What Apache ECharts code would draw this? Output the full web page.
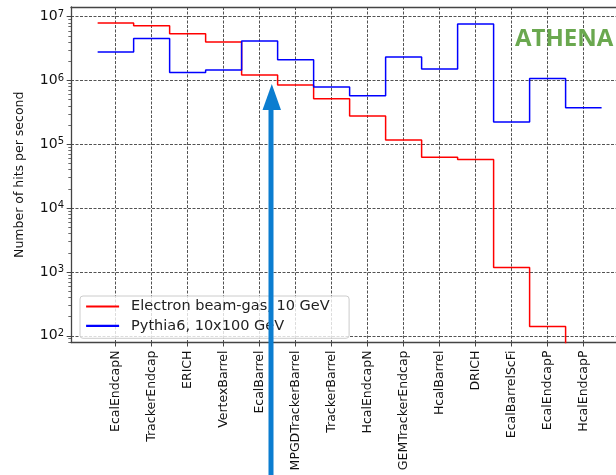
<!DOCTYPE html>
<html>
<head>
<meta charset="utf-8">
<script src="https://cdn.jsdelivr.net/npm/echarts@6/dist/echarts.min.js"></script>
<style>
html, body { margin: 0; padding: 0; background: #fff; }
#chart { width: 616px; height: 475px; }
</style>
</head>
<body>
<div id="chart"></div>
<script>
// ---- data ----
const categories = ['EcalEndcapN', 'TrackerEndcap', 'ERICH', 'VertexBarrel', 'EcalBarrel',
  'MPGDTrackerBarrel', 'TrackerBarrel', 'HcalEndcapN', 'GEMTrackerEndcap', 'HcalBarrel',
  'DRICH', 'EcalBarrelScFi', 'EcalEndcapP', 'HcalEndcapP'];
const electronBeamGas = [7.96e6, 7.2e6, 5.4e6, 4.0e6, 1.22e6, 8.5e5, 5.2e5, 2.78e5,
  1.17e5, 6.3e4, 5.8e4, 1.18e3, 1.4e2, 30];
const pythia6 = [2.8e6, 4.57e6, 1.34e6, 1.46e6, 4.16e6, 2.12e6, 7.9e5, 5.78e5,
  2.33e6, 1.51e6, 7.7e6, 2.23e5, 1.08e6, 3.75e5];
const seriesNames = ['Electron beam-gas, 10 GeV', 'Pythia6, 10x100 GeV'];
const yMajorTicks = [1e2, 1e3, 1e4, 1e5, 1e6, 1e7];
const yMinorMultipliers = [2, 3, 4, 5, 6, 7, 8, 9];
const yMinorDecades = [1e1, 1e2, 1e3, 1e4, 1e5, 1e6, 1e7];

// ---- helpers ----
const FONT = 'DejaVu Sans';
const catIndex = categories.map((_, i) => i);
const yMinorTicks = [];
yMinorDecades.forEach(d => yMinorMultipliers.forEach(m => yMinorTicks.push(m * d)));
// step ("mid") representation: each bin is a flat segment centred on its category
function stepPoints(values) {
  const pts = [];
  values.forEach((v, i) => { pts.push([i - 0.5, v]); pts.push([i + 0.5, v]); });
  return pts;
}
const X_MIN = -1.24, X_MAX = 13.9;
const Y_MIN = 78.5, Y_MAX = 1.42e7;
const AXIS_COLOR = '#444';

const chart = echarts.init(document.getElementById('chart'), null, { renderer: 'canvas' });
chart.setOption({
  animation: false,
  backgroundColor: '#fff',
  textStyle: { fontFamily: FONT },
  grid: { left: 71, right: 0, top: 7, bottom: 132.5, containLabel: false, outerBoundsMode: 'none' },
  legend: {
    data: seriesNames,
    orient: 'vertical',
    left: 80,
    top: 296,
    padding: [3, 12, 5, 5],
    itemWidth: 33,
    itemHeight: 14,
    itemGap: 4.3,
    backgroundColor: 'rgba(255,255,255,0.8)',
    borderColor: '#cccccc',
    borderWidth: 1,
    borderRadius: 3,
    itemStyle: { opacity: 0 },
    lineStyle: { width: 2.2 },
    textStyle: { fontFamily: FONT, fontSize: 14.5, color: '#222', lineHeight: 14, width: 206, padding: [0, 0, 0, 7] }
  },
  xAxis: [{
    type: 'value',
    min: X_MIN,
    max: X_MAX,
    axisLine: { show: true, onZero: false, lineStyle: { color: AXIS_COLOR, width: 1.3 } },
    axisTick: { show: true, customValues: catIndex, length: 4, lineStyle: { color: AXIS_COLOR, width: 1 } },
    axisLabel: {
      customValues: catIndex,
      formatter: v => categories[Math.round(v)],
      rotate: 90,
      margin: 8,
      fontSize: 12.5,
      fontFamily: FONT,
      color: '#111'
    },
    splitLine: { show: true, lineStyle: { type: [3, 1.5], color: '#000', width: 0.8, opacity: 0.85 } }
  }, {
    type: 'value',
    position: 'top',
    min: X_MIN,
    max: X_MAX,
    axisLine: { show: true, onZero: false, lineStyle: { color: AXIS_COLOR, width: 1.3 } },
    axisTick: { show: false },
    axisLabel: { show: false },
    splitLine: { show: false }
  }],
  yAxis: [{
    type: 'log',
    logBase: 10,
    min: Y_MIN,
    max: Y_MAX,
    position: 'left',
    name: 'Number of hits per second',
    nameLocation: 'middle',
    nameGap: 45,
    nameTextStyle: { fontFamily: FONT, fontSize: 12.5, color: '#111' },
    axisLine: { show: true, onZero: false, lineStyle: { color: AXIS_COLOR, width: 1.3 } },
    axisTick: { show: true, customValues: yMajorTicks, length: 4.3, lineStyle: { color: AXIS_COLOR, width: 1 } },
    axisLabel: {
      customValues: yMajorTicks,
      margin: 7,
      formatter: v => '{b|10}{s|' + Math.round(Math.log10(v)) + '}',
      rich: {
        b: { fontFamily: FONT, fontSize: 14, color: '#111', lineHeight: 15 },
        s: { fontFamily: FONT, fontSize: 10, color: '#111', lineHeight: 8, verticalAlign: 'top' }
      }
    },
    splitLine: { show: true, lineStyle: { type: [3, 1.5], color: '#000', width: 0.8, opacity: 0.85 } }
  }, {
    type: 'log',
    logBase: 10,
    min: Y_MIN,
    max: Y_MAX,
    position: 'left',
    offset: 0,
    axisLine: { show: false, onZero: false },
    axisTick: { show: true, customValues: yMinorTicks, length: 2.7, lineStyle: { color: AXIS_COLOR, width: 0.8 } },
    axisLabel: { show: false },
    splitLine: { show: false }
  }],
  series: [{
    name: seriesNames[0],
    type: 'line',
    data: stepPoints(electronBeamGas),
    symbol: 'none',
    clip: true,
    color: '#ff0000',
    lineStyle: { color: '#ff0000', width: 1.5 }
  }, {
    name: seriesNames[1],
    type: 'line',
    data: stepPoints(pythia6),
    symbol: 'none',
    clip: true,
    color: '#0000ff',
    lineStyle: { color: '#0000ff', width: 1.5 }
  }],
  graphic: [{
    type: 'text',
    left: 515,
    top: 27,
    z: 100,
    style: { text: 'ATHENA', fill: '#6aa84f', font: 'bold 24px "Open Sans"' }
  }, {
    type: 'rect',
    z: 100,
    shape: { x: 268.5, y: 108, width: 5, height: 370 },
    style: { fill: '#0b7dd0' }
  }, {
    type: 'polygon',
    z: 100,
    shape: { points: [[262.5, 110], [281, 110], [271.8, 84]] },
    style: { fill: '#0b7dd0' }
  }]
});
</script>
</body>
</html>
